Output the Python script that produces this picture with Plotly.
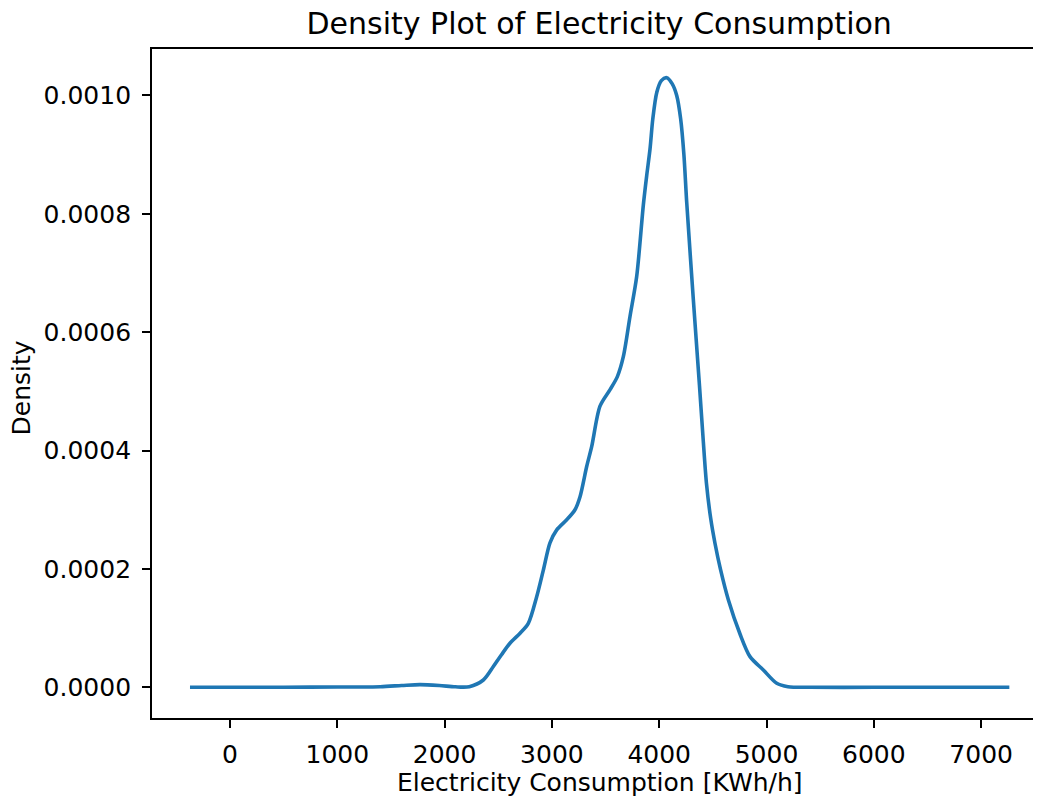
import plotly.graph_objects as go

# Electricity consumption (KWh/h) and estimated density values
consumption = [-373, 0, 500, 1000, 1400, 1600, 1770, 1950, 2100, 2230, 2361, 2454, 2530,
               2609, 2703, 2780, 2858, 2920, 2982, 3045, 3138, 3215, 3262, 3324, 3371,
               3448, 3542, 3610, 3666, 3728, 3790, 3852, 3883, 3914, 3940, 3977, 4020,
               4070, 4120, 4163, 4200, 4230, 4256, 4318, 4375, 4411, 4440, 4480, 4520,
               4570, 4644, 4753, 4846, 4970, 5095, 5200, 5400, 6000, 6500, 7000, 7263]
density = [0.0, 0.0, 0.0, 0.0000005, 0.000001, 0.000003, 0.0000045, 0.000003, 0.0000008,
           0.000001, 0.0000123, 0.000035, 0.000055, 0.0000744, 0.0000913, 0.000108,
           0.000153, 0.000198, 0.000244, 0.000266, 0.000283, 0.0003, 0.000322, 0.000373,
           0.000407, 0.000475, 0.000503, 0.000525, 0.000559, 0.000627, 0.000694, 0.000815,
           0.000864, 0.000909, 0.00096, 0.001005, 0.001025, 0.00103, 0.00102, 0.001,
           0.00096, 0.0009, 0.00082, 0.000655, 0.00051, 0.000415, 0.000345, 0.000285,
           0.000243, 0.0002, 0.000148, 0.00009, 0.0000518, 0.0000293, 0.0000068, 0.000001,
           0.0, 0.0, 0.0, 0.0, 0.0]

x_ticks = [0, 1000, 2000, 3000, 4000, 5000, 6000, 7000]
y_ticks = [0.0, 0.0002, 0.0004, 0.0006, 0.0008, 0.0010]
y_tick_labels = ["0.0000", "0.0002", "0.0004", "0.0006", "0.0008", "0.0010"]

FONT = "DejaVu Sans"
FIG_W, FIG_H = 1033, 793  # page body adds an 8px offset

fig = go.Figure()
fig.add_trace(go.Scatter(
    x=consumption, y=density, mode="lines",
    line=dict(color="#1f77b4", width=3.6, shape="spline", smoothing=0.8),
    hoverinfo="x+y", showlegend=False,
))

fig.update_layout(
    width=FIG_W, height=FIG_H,
    margin=dict(l=144, r=0, t=41, b=83, pad=0),
    paper_bgcolor="white", plot_bgcolor="white",
    font=dict(family=FONT, size=25, color="black"),
    title=dict(text="Density Plot of Electricity Consumption",
               font=dict(family=FONT, size=30, color="black"),
               x=0.503, xref="paper", xanchor="center",
               y=1 - 15 / FIG_H, yref="container", yanchor="middle"),
    xaxis=dict(range=[-727, 7558], tickvals=x_ticks,
               ticktext=[str(v) for v in x_ticks],
               showgrid=False, zeroline=False,
               showline=True, linecolor="black", linewidth=1.9, mirror=True,
               ticks="outside", ticklen=8, tickwidth=1.9, tickcolor="black",
               ticklabelstandoff=5,
               tickfont=dict(family=FONT, size=25, color="black")),
    yaxis=dict(range=[-0.0000519, 0.0010785], tickvals=y_ticks, ticktext=y_tick_labels,
               showgrid=False, zeroline=False,
               showline=True, linecolor="black", linewidth=1.9, mirror=False,
               ticks="outside", ticklen=8, tickwidth=1.9, tickcolor="black",
               ticklabelstandoff=6,
               tickfont=dict(family=FONT, size=25, color="black")),
    annotations=[
        dict(text="Electricity Consumption [KWh/h]", xref="paper", yref="paper",
             x=0.504, y=-0.0957, xanchor="center", yanchor="middle", showarrow=False,
             font=dict(family=FONT, size=25, color="black")),
        dict(text="Density", xref="paper", yref="paper", textangle=-90,
             x=-0.147, y=0.493, xanchor="center", yanchor="middle", showarrow=False,
             font=dict(family=FONT, size=25, color="black")),
    ],
)

fig.write_html("out.html")
